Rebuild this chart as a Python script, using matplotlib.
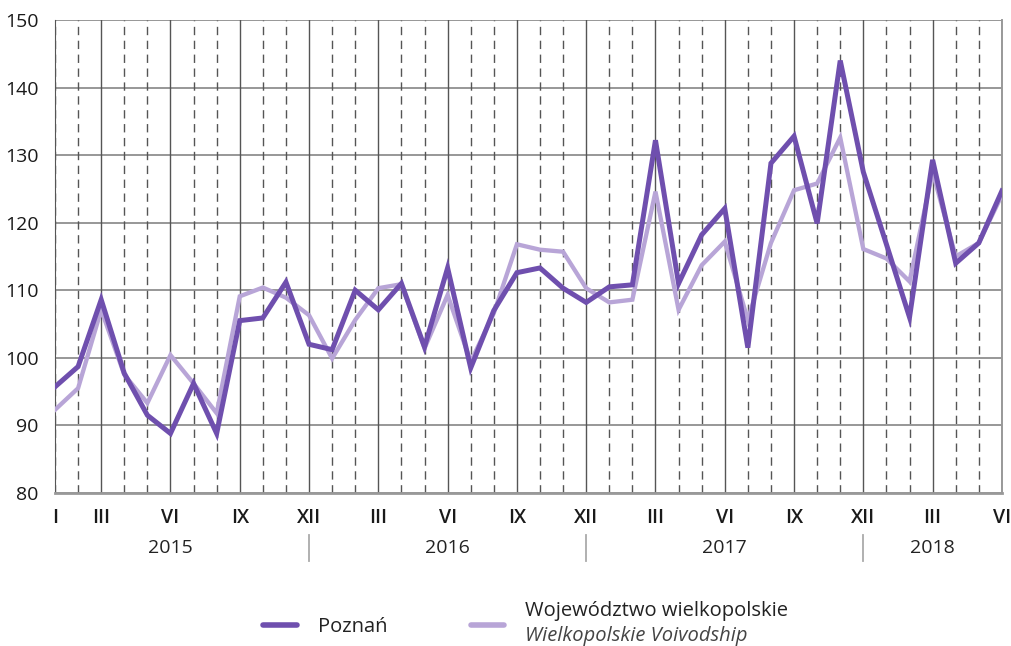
import numpy as np
import matplotlib
matplotlib.use("Agg")
from matplotlib import pyplot as plt
from matplotlib.lines import Line2D
import matplotlib.transforms as mtransforms

plt.rcParams['font.family'] = ['Open Sans', 'DejaVu Sans']

# monthly index values, I 2015 .. VI 2018
poznan = [95.7, 98.7, 108.6, 97.7, 91.5, 88.8, 96.2, 88.8, 105.5, 105.9,
          111.2, 102.0, 101.2, 110.0, 107.1, 111.0, 101.6, 113.3, 98.5, 107.0,
          112.6, 113.3, 110.3, 108.2, 110.5, 110.8, 132.2, 111.0, 118.2, 122.1,
          101.5, 128.8, 132.8, 119.9, 144.0, 127.5, 116.8, 106.0, 129.3, 114.0,
          117.0, 124.7]
wojewodztwo = [92.3, 95.5, 107.1, 97.5, 93.3, 100.4, 96.2, 91.8, 109.1, 110.4,
               108.9, 106.3, 99.9, 105.6, 110.3, 110.9, 101.4, 109.3, 99.4, 106.6,
               116.8, 116.0, 115.7, 110.3, 108.2, 108.6, 124.6, 107.1, 113.7, 117.2,
               105.6, 117.0, 124.8, 125.8, 132.6, 116.1, 114.7, 111.3, 127.5, 115.0,
               117.0, 124.1]

month_ticks = [0, 2, 5, 8, 11, 14, 17, 20, 23, 26, 29, 32, 35, 38, 41]
month_labels = ['I', 'III', 'VI', 'IX', 'XII', 'III', 'VI', 'IX', 'XII',
                'III', 'VI', 'IX', 'XII', 'III', 'VI']
years = ['2015', '2016', '2017', '2018']
year_pos = [5, 17, 29, 38]
year_breaks = [11, 23, 35]

dark = '#6f4fae'
light = '#b8a5d7'

fig = plt.figure(figsize=(10.11, 6.46), dpi=100)
ax = fig.add_axes([0.0544, 0.237, 0.9366, 0.732])

x = np.arange(len(poznan))

# grid
for v in range(80, 151, 10):
    ax.axhline(v, color='#7a7a7a', lw=1.1, zorder=1)
for i in range(len(poznan)):
    if i % 3 == 2:
        ax.axvline(i, color='#555555', lw=1.0, zorder=1)
    else:
        ax.axvline(i, color='#555555', lw=1.0, ls=(0, (6, 4)), zorder=1)

ax.plot(x, wojewodztwo, color=light, lw=3.1, solid_joinstyle='miter', zorder=3)
ax.plot(x, poznan, color=dark, lw=3.6, solid_joinstyle='miter', zorder=4)

ax.set_xlim(0, len(poznan) - 1)
ax.set_ylim(80, 150)
ax.set_yticks(range(80, 151, 10))
ax.set_xticks(month_ticks)
ax.set_xticklabels(month_labels, fontweight='semibold')
ax.tick_params(axis='both', length=0, labelsize=14, colors='#1a1a1a')
ax.tick_params(axis='y', pad=12)
ax.tick_params(axis='x', pad=11)

ax.spines['top'].set_visible(False)
ax.spines['left'].set_color('#555555')
ax.spines['right'].set_color('#999999')
ax.spines['right'].set_linewidth(1.4)
ax.spines['bottom'].set_color('#999999')
ax.spines['bottom'].set_linewidth(2.0)

trans = mtransforms.blended_transform_factory(ax.transData, ax.transAxes)
for lab, p in zip(years, year_pos):
    ax.text(p, -0.117, lab, transform=trans, ha='center', va='center',
            fontsize=14, color='#222222')
for b in year_breaks:
    ax.add_line(Line2D([b, b], [-0.089, -0.144], transform=trans,
                       color='#aaaaaa', lw=1.3, clip_on=False))

# legend
fig.add_artist(Line2D([0.260, 0.294], [0.0325, 0.0325], color=dark, lw=4,
                      solid_capstyle='round'))
fig.text(0.315, 0.030, 'Poznań', fontsize=14.5, va='center', color='#222222')
fig.add_artist(Line2D([0.466, 0.499], [0.0325, 0.0325], color=light, lw=4,
                      solid_capstyle='round'))
fig.text(0.519, 0.054, 'Województwo wielkopolskie', fontsize=14.5, va='center',
         color='#222222')
fig.text(0.519, 0.016, 'Wielkopolskie Voivodship', fontsize=14.5, va='center',
         style='italic', color='#444444')

fig.savefig('out.png', dpi=100)
